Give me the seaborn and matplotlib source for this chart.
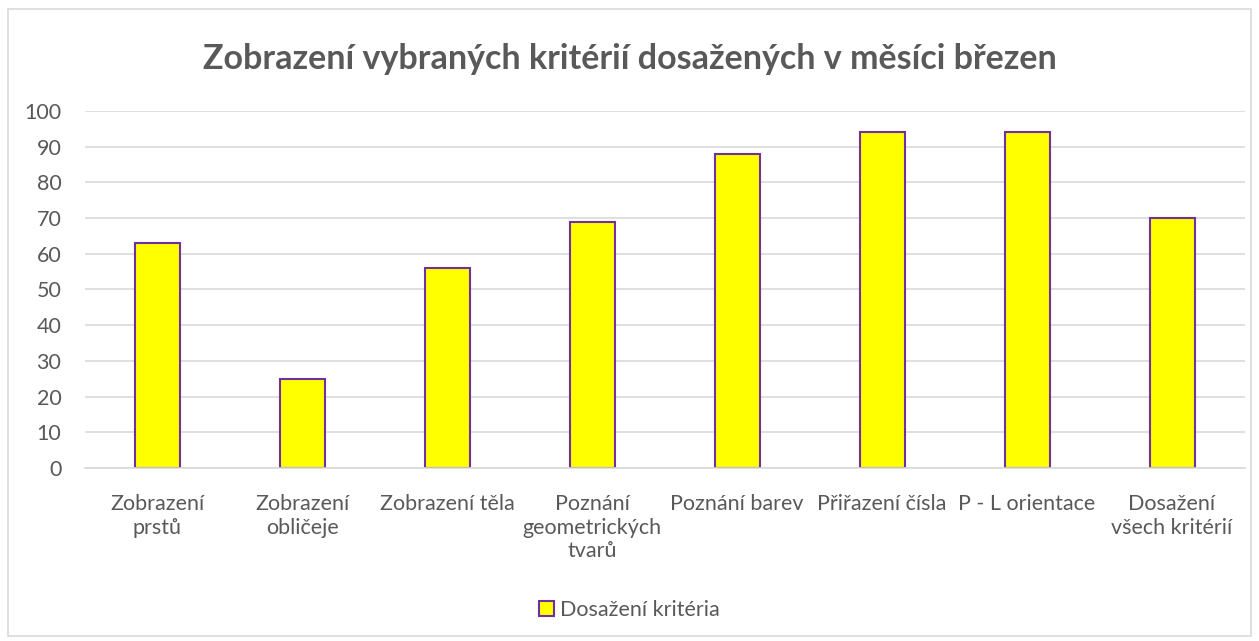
import matplotlib
matplotlib.use("Agg")
import matplotlib.pyplot as plt
import seaborn as sns
import pandas as pd
from matplotlib.patches import Rectangle, Patch

categories = ["Zobrazení\nprstů", "Zobrazení\nobličeje", "Zobrazení těla",
              "Poznání\ngeometrických\ntvarů", "Poznání barev", "Přiřazení čísla",
              "P - L orientace", "Dosažení\nvšech kritérií"]
values = [63, 25, 56, 69, 88, 94, 94, 70]
series_name = "Dosažení kritéria"
title = "Zobrazení vybraných kritérií dosažených v měsíci březen"
yticks = [0, 10, 20, 30, 40, 50, 60, 70, 80, 90, 100]

df = pd.DataFrame({"kategorie": categories, "hodnota": values})

sns.set_theme(style="white")
plt.rcParams['font.family'] = ['Lato', 'DejaVu Sans']

fig = plt.figure(figsize=(12.59, 6.41), dpi=100)
ax = fig.add_axes([0.0675, 0.270, 0.921, 0.557])

sns.barplot(data=df, x="kategorie", y="hodnota", ax=ax, color="#FFFF00",
            edgecolor="#7030A0", linewidth=1.5, width=0.31, saturation=1)

ax.set_ylim(0, 100)
ax.set_yticks(yticks)
ax.set_xlim(-0.5, len(categories) - 0.5)
ax.yaxis.grid(True, color="#d9d9d9", linewidth=1.2)
ax.set_axisbelow(True)
for s in ["top", "right", "left"]:
    ax.spines[s].set_visible(False)
ax.spines["bottom"].set_color("#d9d9d9")
ax.spines["bottom"].set_linewidth(1.2)
ax.set_xlabel("")
ax.set_ylabel("")
ax.tick_params(axis="y", length=0, labelsize=15.5, colors="#595959", pad=17)
ax.tick_params(axis="x", length=0, labelsize=15.5, colors="#595959", pad=19)
for lbl in ax.get_xticklabels():
    lbl.set_linespacing(1.22)

fig.text(0.5, 0.908, title, ha="center", va="center", fontsize=24.5,
         fontweight="bold", color="#595959")

leg = fig.legend(handles=[Patch(facecolor="#FFFF00", edgecolor="#7030A0", linewidth=1.5,
                                label=series_name)],
                 loc="center", bbox_to_anchor=(0.5, 0.048), frameon=False,
                 fontsize=15.5, handlelength=0.7, handleheight=0.7, handletextpad=0.3)
for t in leg.get_texts():
    t.set_color("#595959")

fig.patches.append(Rectangle((0.006, 0.008), 0.988, 0.978, transform=fig.transFigure,
                             fill=False, edgecolor="#d9d9d9", linewidth=1.2))

fig.savefig("out.png", dpi=100)
